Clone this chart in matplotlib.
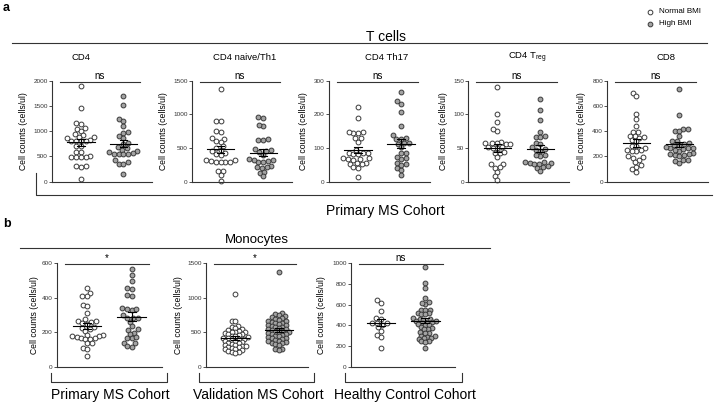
import numpy as np
import matplotlib
matplotlib.use("Agg")
import matplotlib.pyplot as plt
from matplotlib.lines import Line2D

plt.rcParams['font.family'] = 'Liberation Sans'
plt.rcParams['mathtext.fontset'] = 'custom'
plt.rcParams['mathtext.rm'] = 'Liberation Sans'

# ---- data (cells/ul) ----
cd4_normal = [1900, 1450, 1170, 1140, 1060, 1050, 1010, 940, 925, 885, 880, 870, 820, 815, 810,
              805, 800, 705, 700, 595, 590, 500, 495, 490, 485, 480, 320, 300, 310, 50]
cd4_high = [1700, 1520, 1240, 1210, 1100, 990, 960, 900, 860, 760, 740, 680, 660, 630, 600,
            580, 560, 555, 550, 545, 540, 430, 400, 360, 350, 150]
th1_normal = [1380, 905, 895, 750, 745, 650, 640, 600, 590, 530, 500, 470, 455, 420, 410, 395,
              325, 320, 310, 300, 295, 290, 300, 165, 160, 100, 15]
th1_high = [955, 940, 820, 840, 620, 615, 630, 480, 470, 445, 460, 400, 325, 305, 300, 300,
            320, 330, 225, 210, 230, 215, 130, 150, 80]
th17_normal = [223, 190, 148, 145, 146, 149, 131, 130, 119, 95, 86, 85, 84, 83, 82, 70, 67, 66,
               65, 69, 57, 52, 54, 56, 44, 42, 13]
th17_high = [267, 240, 232, 208, 165, 139, 129, 126, 128, 114, 116, 113, 102, 86, 85, 69, 68,
             74, 55, 53, 40, 35, 50, 20]
treg_normal = [140, 100, 89, 76, 78, 59, 57, 56, 57, 56, 58, 50, 51, 52, 50, 42, 43, 44, 36, 27,
               26, 21, 22, 15, 9, 3]
treg_high = [123, 107, 92, 74, 67, 66, 68, 57, 56, 51, 47, 46, 48, 38, 39, 40, 30, 28, 27, 27,
             28, 30, 21, 22, 23, 16]
cd8_normal = [705, 680, 540, 500, 440, 390, 395, 360, 350, 355, 365, 330, 320, 285, 280, 270,
              250, 240, 245, 255, 200, 195, 190, 170, 155, 130, 120, 100, 80]
cd8_high = [735, 530, 420, 420, 405, 400, 360, 325, 325, 300, 290, 292, 305, 265, 268, 270, 275,
            240, 225, 220, 210, 218, 250, 260, 200, 212, 170, 165, 175, 145]

mono_primary_normal = [455, 430, 410, 412, 360, 350, 310, 275, 265, 260, 266, 250, 252, 225, 230,
                       210, 220, 180, 185, 182, 175, 178, 165, 160, 166, 161, 135, 136, 110, 105, 60]
mono_primary_high = [565, 530, 500, 455, 450, 410, 415, 340, 330, 335, 332, 280, 285, 300, 282,
                     260, 235, 215, 216, 195, 190, 165, 166, 170, 135, 140, 115, 120]
mono_valid_normal = [1050, 670, 660, 590, 580, 560, 540, 530, 520, 510, 500, 505, 490, 480, 470,
                     460, 450, 440, 430, 420, 410, 400, 402, 390, 380, 370, 360, 350, 340, 330,
                     320, 310, 300, 302, 290, 280, 270, 260, 250, 240, 230, 220, 210, 200]
mono_valid_high = [1370, 780, 770, 750, 730, 720, 700, 690, 680, 670, 660, 650, 640, 630, 620,
                   610, 600, 590, 580, 570, 560, 550, 540, 530, 520, 510, 500, 502, 490, 480,
                   470, 460, 450, 440, 430, 420, 410, 400, 390, 380, 370, 360, 350, 340, 330,
                   320, 260, 250, 240]
mono_healthy_normal = [645, 620, 540, 475, 465, 425, 420, 427, 380, 400, 345, 310, 290, 185]
mono_healthy_high = [960, 810, 760, 660, 610, 620, 630, 550, 545, 552, 520, 510, 515, 505, 470,
                     465, 460, 455, 440, 435, 442, 430, 420, 410, 400, 405, 380, 370, 365, 360,
                     330, 335, 325, 300, 295, 290, 280, 275, 270, 250, 245, 240, 180]

tcell_titles = ['CD4', 'CD4 naive/Th1', 'CD4 Th17', 'CD4 T$_{\\mathrm{reg}}$', 'CD8']
tcell_data = [(cd4_normal, cd4_high), (th1_normal, th1_high), (th17_normal, th17_high),
              (treg_normal, treg_high), (cd8_normal, cd8_high)]
tcell_ymax = [2000, 1500, 300, 150, 800]
tcell_step = [500, 500, 100, 50, 200]
tcell_sig = ['ns', 'ns', 'ns', 'ns', 'ns']

mono_cohorts = ['Primary MS Cohort', 'Validation MS Cohort', 'Healthy Control Cohort']
mono_data = [(mono_primary_normal, mono_primary_high), (mono_valid_normal, mono_valid_high),
             (mono_healthy_normal, mono_healthy_high)]
mono_ymax = [600, 1500, 1000]
mono_step = [200, 500, 200]
mono_sig = ['*', '*', 'ns']

W, H = 714, 403
fig = plt.figure(figsize=(W / 100, H / 100), dpi=100)


def fx(x):
    return x / W


def fy(y):
    return 1 - y / H


def fline(xs, ys, lw=0.8, color='#333333'):
    fig.add_artist(Line2D([fx(x) for x in xs], [fy(y) for y in ys], lw=lw, color=color,
                          transform=fig.transFigure))


def swarm_x(ax, xc, vals, d):
    # simple beeswarm in pixel space
    pts = ax.transData.transform(np.column_stack([np.full(len(vals), xc), vals]))
    ys = pts[:, 1]
    offs = np.zeros(len(vals))
    placed = []
    for i in np.argsort(ys):
        y = ys[i]
        near = [(px, py) for px, py in placed if abs(py - y) < d]
        cands = [0.0]
        for px, py in near:
            dx = np.sqrt(d ** 2 - (py - y) ** 2)
            cands += [px - dx, px + dx]
        cands.sort(key=lambda c: (round(abs(c), 3), c))
        for c in cands:
            if all((c - px) ** 2 + (y - py) ** 2 >= d ** 2 - 1e-6 for px, py in near):
                offs[i] = c
                break
        placed.append((offs[i], y))
    back = ax.transData.inverted().transform(np.column_stack([pts[:, 0] + offs, ys]))
    return back[:, 0]


def panel(rect_px, groups, ymax, step, sig, label_off, spacing=(4.8, 4.8)):
    x0, x1, yt, yb = rect_px
    ax = fig.add_axes([fx(x0), fy(yb), (x1 - x0) / W, (yb - yt) / H])
    ax.set_xlim(-0.68, 1.67)
    ax.set_ylim(0, ymax)
    ax.set_yticks(np.arange(0, ymax + 1, step))
    ax.set_xticks([])
    for s in ['top', 'right']:
        ax.spines[s].set_visible(False)
    for s in ['left', 'bottom']:
        ax.spines[s].set_color('#333333')
        ax.spines[s].set_linewidth(0.8)
    ax.tick_params(axis='y', labelsize=4.6, length=2, width=0.6, pad=1, colors='#333333')
    ax.set_ylabel('Cell counts (cells/ul)', fontsize=6.2, va='center')
    ax.yaxis.set_label_coords(-label_off / (x1 - x0), 0.5)
    faces = ['white', '#a3a3a3']
    for k, vals in enumerate(groups):
        vals = np.asarray(vals, float)
        xs = swarm_x(ax, k, vals, spacing[k])
        ax.scatter(xs, vals, s=12, facecolor=faces[k], edgecolor='#3a3a3a', linewidth=0.7,
                   zorder=2, clip_on=False)
        m = vals.mean()
        se = vals.std(ddof=1) / np.sqrt(len(vals))
        ax.plot([k - 0.32, k + 0.32], [m, m], color='black', lw=0.8, zorder=3)
        ax.plot([k, k], [m - se, m + se], color='black', lw=0.8, zorder=3)
        for v in (m - se, m + se):
            ax.plot([k - 0.09, k + 0.09], [v, v], color='black', lw=0.8, zorder=3)
    ax.plot([0.08, 0.88], [0.99, 0.99], transform=ax.transAxes, color='#333333', lw=0.8,
            clip_on=False)
    ax.text(0.48, 1.0, sig, transform=ax.transAxes, ha='center', va='bottom', fontsize=7)
    return ax


# ---- panel a: T cells ----
fig.text(fx(3), fy(8), 'a', fontsize=9, fontweight='bold', va='center')
fig.text(fx(386), fy(37), 'T cells', fontsize=10, ha='center', va='center')
fline([12, 707], [43, 43])
tcell_rects = [(52, 152), (191.7, 291.7), (329, 430), (468.3, 569), (607.3, 708)]
tcell_title_x = [81, 245, 387, 527, 666]
tcell_off = [28, 28, 25, 25, 26]
for i in range(5):
    x0, x1 = tcell_rects[i]
    panel((x0, x1, 80.7, 181.7), tcell_data[i], tcell_ymax[i], tcell_step[i], tcell_sig[i],
          tcell_off[i])
    fig.text(fx(tcell_title_x[i]), fy(58), tcell_titles[i], fontsize=6.8, ha='center',
             va='center')
fline([36, 36, 712], [173, 195, 195])
fig.text(fx(385), fy(211), 'Primary MS Cohort', fontsize=10, ha='center', va='center')

# legend
fig.add_artist(Line2D([fx(650)], [fy(11.5)], marker='o', ms=3.4, mfc='white', mec='#3a3a3a',
                      mew=0.7, lw=0, transform=fig.transFigure))
fig.add_artist(Line2D([fx(650)], [fy(23.5)], marker='o', ms=3.4, mfc='#a3a3a3', mec='#3a3a3a',
                      mew=0.7, lw=0, transform=fig.transFigure))
fig.text(fx(659), fy(11.5), 'Normal BMI', fontsize=5.8, va='center')
fig.text(fx(659), fy(23.5), 'High BMI', fontsize=5.8, va='center')

# ---- panel b: Monocytes ----
fig.text(fx(3), fy(224), 'b', fontsize=9, fontweight='bold', va='center')
fig.text(fx(257), fy(240), 'Monocytes', fontsize=9.5, ha='center', va='center')
fline([20, 490], [248, 248])
mono_rects = [(56.7, 161.7), (205.7, 308), (351, 455)]
mono_brackets = [(51, 166.7), (199, 314), (345, 462.3)]
mono_label_x = [110, 258, 405]
mono_off = [22, 27, 29]
mono_spacing = [(4.6, 4.8), (3.7, 3.7), (4.8, 3.9)]
for i in range(3):
    x0, x1 = mono_rects[i]
    panel((x0, x1, 263.3, 366.7), mono_data[i], mono_ymax[i], mono_step[i], mono_sig[i],
          mono_off[i], mono_spacing[i])
    b0, b1 = mono_brackets[i]
    fline([b0, b0, b1, b1], [373, 381.7, 381.7, 373])
    fig.text(fx(mono_label_x[i]), fy(395), mono_cohorts[i], fontsize=10, ha='center',
             va='center')

fig.savefig('out.png', dpi=100)
